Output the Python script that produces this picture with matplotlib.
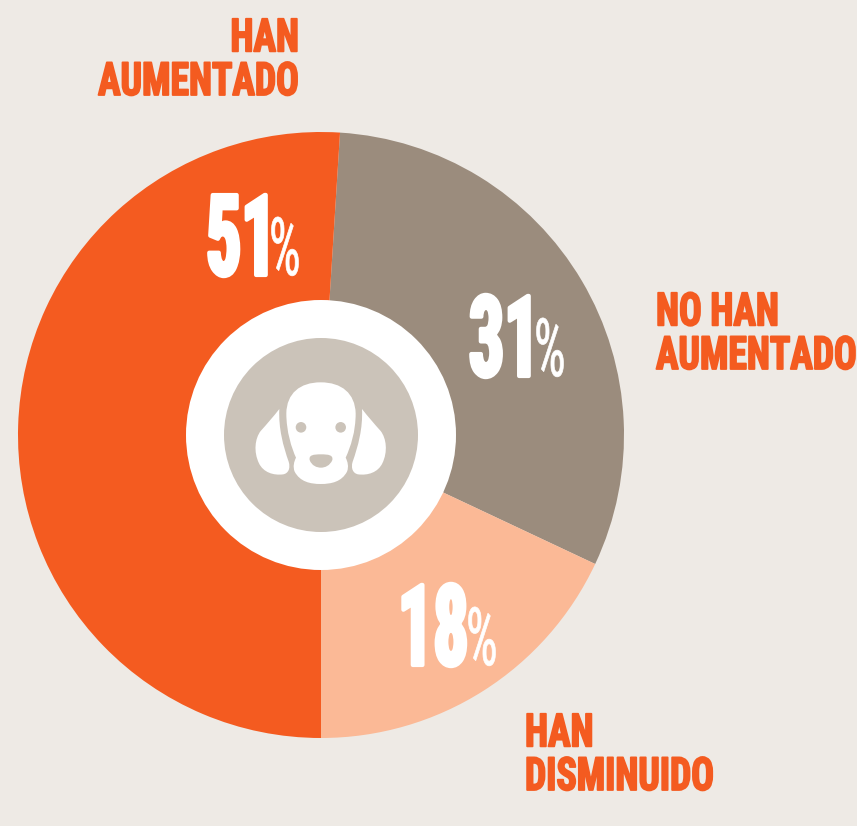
import matplotlib
matplotlib.use("Agg")
import matplotlib.pyplot as plt
from matplotlib.patches import Circle, PathPatch
from matplotlib.path import Path
from matplotlib.patheffects import AbstractPathEffect
from matplotlib.text import Text
from matplotlib.transforms import Affine2D, Bbox
from matplotlib import font_manager as fm

W, H = 857, 826
BG = "#EEEAE5"
ORANGE = "#F45B20"
GREY = "#9B8C7D"
PEACH = "#FBB996"
ICON = "#CBC3B9"

labels = ["NO HAN\nAUMENTADO", "HAN\nDISMINUIDO", "HAN\nAUMENTADO"]
values = [31, 18, 51]
colors = [GREY, PEACH, ORANGE]

names = {f.name for f in fm.fontManager.ttflist}
FONT = [f for f in ["Roboto Condensed", "Liberation Sans Narrow", "Roboto", "DejaVu Sans"] if f in names]


class Squeeze(AbstractPathEffect):
    """Narrow the glyphs about the anchor and thicken them with a stroke."""
    def __init__(self, sx, x0, lw=0.0):
        super().__init__()
        self.sx, self.x0, self.lw = sx, x0, lw

    def draw_path(self, renderer, gc, tpath, affine, rgbFace=None):
        a = affine + Affine2D().translate(-self.x0, 0).scale(self.sx, 1).translate(self.x0, 0)
        g = renderer.new_gc()
        g.copy_properties(gc)
        g.set_linewidth(self.lw)
        if self.lw:
            g.set_foreground(rgbFace)
        renderer.draw_path(g, tpath, a, rgbFace)
        g.restore()


class CondensedText(Text):
    """Text whose reported extent follows its narrowed drawing."""
    def __init__(self, x, y, s, sx=1.0, lw=0.0, **kw):
        super().__init__(x, y, s, **kw)
        self.sx = sx
        self.set_path_effects([Squeeze(sx, x, lw)])

    def get_window_extent(self, renderer=None, dpi=None):
        b = super().get_window_extent(renderer, dpi)
        x0 = self.get_position()[0]
        return Bbox([[x0 + (b.x0 - x0) * self.sx, b.y0], [x0 + (b.x1 - x0) * self.sx, b.y1]])


fig = plt.figure(figsize=(W / 100, H / 100), dpi=100, facecolor=BG)
ax = fig.add_axes([0, 0, 1, 1])


def Y(py):
    return H - py


ax.pie(values, colors=colors, startangle=86.4, counterclock=False,
       center=(321, Y(435)), radius=303, frame=True,
       wedgeprops={"linewidth": 0})
ax.set_xlim(0, W)
ax.set_ylim(0, H)
ax.set_aspect("equal")
ax.axis("off")

ax.add_patch(Circle((321, Y(435)), 135, fc="white", ec="none", zorder=3))
ax.add_patch(Circle((321, Y(435)), 97, fc=ICON, ec="none", zorder=4))


# Dog icon, outlined in the zoomed crop's coordinates
def Z(x, y):
    return (220 + x / 3, Y(335 + y / 3))


def shape(points):
    M, C = Path.MOVETO, Path.CURVE4
    verts = [Z(*p) for p in points]
    codes = [M] + [C] * (len(points) - 1)
    return PathPatch(Path(verts, codes), fc="white", ec="none", zorder=5)


head = [(302, 142),
        (240, 142), (200, 175), (199, 235),
        (199, 290), (215, 340), (228, 368),
        (222, 380), (218, 395), (224, 410),
        (240, 440), (270, 447), (302, 447),
        (335, 447), (365, 440), (381, 410),
        (387, 395), (383, 380), (377, 368),
        (392, 335), (407, 290), (407, 235),
        (405, 175), (365, 142), (302, 142)]
ear_l = [(178, 222),
         (160, 245), (140, 268), (122, 288),
         (105, 310), (100, 350), (117, 385),
         (130, 412), (160, 422), (190, 418),
         (205, 415), (212, 400), (206, 380),
         (190, 335), (175, 280), (178, 222)]
ear_r = [(604 - x, y) for x, y in ear_l]
nose = [(303, 358),
        (325, 358), (340, 360), (337, 375),
        (330, 392), (315, 398), (303, 398),
        (290, 398), (275, 392), (269, 375),
        (266, 360), (280, 358), (303, 358)]
for pts in (head, ear_l, ear_r):
    ax.add_patch(shape(pts))
nose_patch = shape(nose)
nose_patch.set_facecolor(ICON)
nose_patch.set_zorder(6)
ax.add_patch(nose_patch)
for ex in (243, 362):
    ax.add_patch(Circle(Z(ex, 277), 5.3, fc=ICON, ec="none", zorder=6))

# Category labels
label_pos = [(656, 369, "left"), (525, 790, "left"), (299, 95, "right")]
for text, (x, y, ha) in zip(labels, label_pos):
    ax.add_artist(CondensedText(x, Y(y), text, sx=0.82, lw=1.3, color=ORANGE,
                                family=FONT, weight="bold", fontsize=33,
                                ha=ha, va="baseline", linespacing=0.99, zorder=7))

# Percentages
pct_pos = [(469, 376, 534), (398, 665, 466), (206, 275, 269)]
for v, (x, y, xp) in zip(values, pct_pos):
    ax.add_artist(CondensedText(x, Y(y), str(v), sx=0.62, lw=3.0, color="white",
                                family=FONT, weight="bold", fontsize=81,
                                ha="left", va="baseline", zorder=7))
    ax.add_artist(CondensedText(xp, Y(y), "%", sx=0.62, lw=0.5, color="white",
                                family=FONT, fontsize=58,
                                ha="left", va="baseline", zorder=7))

fig.savefig("out.png", dpi=100, facecolor=BG)
